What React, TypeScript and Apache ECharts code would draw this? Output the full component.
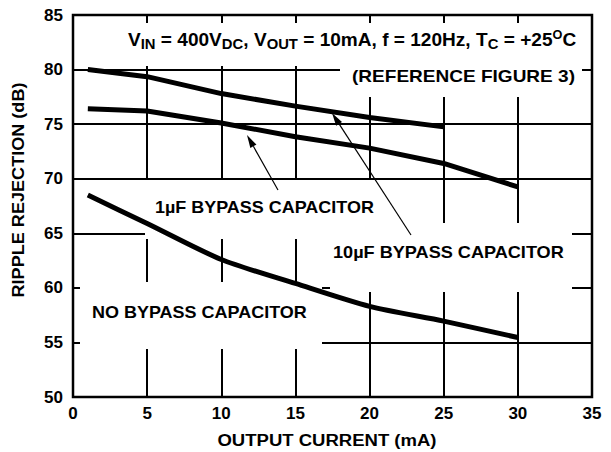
import React, { useEffect, useRef } from "react";
import * as echarts from "echarts";

// Output current (mA) sample points
const currentMA = [1, 5, 10, 15, 20, 25, 30];
// Ripple rejection (dB)
const rej10uF = [80.0, 79.35, 77.8, 76.65, 75.6, 74.75];
const rej1uF = [76.4, 76.2, 75.1, 73.85, 72.8, 71.4, 69.25];
const rejNone = [68.5, 65.9, 62.6, 60.4, 58.3, 56.95, 55.45];

const xTickLabels = ["0", "5", "10", "15", "20", "25", "30", "35"];
const yTickLabels = ["50", "55", "60", "65", "70", "75", "80", "85"];

const FONT = "'Liberation Sans', Arial, Helvetica, sans-serif";

function zip(xs: number[], ys: number[]) {
  return ys.map((y, i) => [xs[i], y]);
}

function arrow(tail: number[], tip: number[], len: number, half: number) {
  const dx = tip[0] - tail[0];
  const dy = tip[1] - tail[1];
  const l = Math.sqrt(dx * dx + dy * dy);
  const ux = dx / l;
  const uy = dy / l;
  const bx = tip[0] - ux * len;
  const by = tip[1] - uy * len;
  const nx = -uy;
  const ny = ux;
  return [
    {
      type: "line",
      z: 5,
      silent: true,
      shape: { x1: tail[0], y1: tail[1], x2: bx, y2: by },
      style: { stroke: "#000", lineWidth: 1.2 },
    },
    {
      type: "polygon",
      z: 5,
      silent: true,
      shape: {
        points: [
          [tip[0], tip[1]],
          [bx + nx * half, by + ny * half],
          [bx - nx * half, by - ny * half],
        ],
      },
      style: { fill: "#000" },
    },
  ];
}

function label(text: string, x: number, y: number, size: number, sx: number, align = "left", rotation = 0) {
  return {
    type: "text",
    x,
    y,
    z: 6,
    silent: true,
    scaleX: sx,
    rotation,
    style: {
      text,
      fill: "#000",
      fontSize: size,
      fontWeight: "bold",
      fontFamily: FONT,
      align,
      verticalAlign: "middle",
      textAlign: align,
      textVerticalAlign: "middle",
    },
  };
}

function whiteRect(x: number, y: number, w: number, h: number) {
  return {
    type: "rect",
    z: 1,
    silent: true,
    shape: { x, y, width: w, height: h },
    style: { fill: "#fff" },
  };
}

export default function App() {
  const ref = useRef<HTMLDivElement>(null);

  useEffect(() => {
    if (!ref.current) return;
    const chart = echarts.init(ref.current, undefined, { renderer: "svg" });

    const axisLabelStyle = {
      color: "#000",
      fontSize: 17,
      fontWeight: "bold" as const,
      fontFamily: FONT,
    };

    const titleRich = {
      m: { fontSize: 18, fontWeight: "bold", fontFamily: FONT, fill: "#000", color: "#000", lineHeight: 24 },
      s: { fontSize: 14, fontWeight: "bold", fontFamily: FONT, fill: "#000", color: "#000", lineHeight: 24, padding: [9, 0, 0, 0] },
      u: { fontSize: 12, fontWeight: "bold", fontFamily: FONT, fill: "#000", color: "#000", lineHeight: 24, padding: [0, 0, 9, 0] },
    };

    const option: any = {
      animation: false,
      backgroundColor: "#fff",
      grid: {
        left: 73,
        right: 19,
        top: 15,
        bottom: 55,
        show: true,
        borderColor: "#000",
        borderWidth: 2.5,
        backgroundColor: "transparent",
      },
      xAxis: {
        type: "value",
        min: 0,
        max: 35,
        interval: 5,
        axisLine: { show: false },
        axisTick: { show: false },
        axisLabel: {
          ...axisLabelStyle,
          margin: 8,
          formatter: (v: number) => xTickLabels[Math.round(v / 5)] ?? String(v),
        },
        splitLine: { show: true, lineStyle: { color: "#000", width: 2 } },
      },
      yAxis: {
        type: "value",
        min: 50,
        max: 85,
        interval: 5,
        axisLine: { show: false },
        axisTick: { show: false },
        axisLabel: {
          ...axisLabelStyle,
          margin: 10,
          formatter: (v: number) => yTickLabels[Math.round((v - 50) / 5)] ?? String(v),
        },
        splitLine: { show: true, lineStyle: { color: "#000", width: 2 } },
      },
      series: [
        {
          name: "10µF BYPASS CAPACITOR",
          type: "line",
          data: zip(currentMA, rej10uF),
          showSymbol: false,
          symbol: "none",
          lineStyle: { color: "#000", width: 5 },
          z: 2,
        },
        {
          name: "1µF BYPASS CAPACITOR",
          type: "line",
          data: zip(currentMA, rej1uF),
          showSymbol: false,
          symbol: "none",
          lineStyle: { color: "#000", width: 5 },
          z: 2,
        },
        {
          name: "NO BYPASS CAPACITOR",
          type: "line",
          data: zip(currentMA, rejNone),
          showSymbol: false,
          symbol: "none",
          smooth: 0.25,
          lineStyle: { color: "#000", width: 5 },
          z: 2,
        },
      ],
      graphic: [
        // white clearings behind the annotations (break the grid like the original)
        whiteRect(76, 23, 513, 43),
        whiteRect(340, 66, 242, 31),
        whiteRect(76, 180, 296, 51),
        whiteRect(145, 231, 427, 8),
        whiteRect(330, 223, 242, 69),
        whiteRect(80, 282, 242, 67),
        // texts
        {
          type: "text",
          x: 128,
          y: 40,
          z: 6,
          silent: true,
          scaleX: 1.06,
          style: {
            text: "{m|V}{s|IN}{m| = 400V}{s|DC}{m|, V}{s|OUT}{m| = 10mA, f = 120Hz, T}{s|C}{m| = +25}{u|O}{m|C}",
            rich: titleRich,
            fill: "#000",
            fontWeight: "bold",
            fontFamily: FONT,
            align: "left",
            verticalAlign: "middle",
            textAlign: "left",
            textVerticalAlign: "middle",
          },
        },
        label("(REFERENCE FIGURE 3)", 352, 76, 17, 1.12),
        label("1µF BYPASS CAPACITOR", 155, 208, 16, 1.123),
        label("10µF BYPASS CAPACITOR", 333, 253, 16, 1.133),
        label("NO BYPASS CAPACITOR", 92, 312.5, 16, 1.125),
        label("OUTPUT CURRENT (mA)", 327, 440, 17, 1.09, "center"),
        label("RIPPLE REJECTION (dB)", 18, 190, 17, 1.064, "center", Math.PI / 2),
        ...arrow([278, 190], [247, 135], 13, 3.5),
        ...arrow([411, 235], [332, 113], 13, 3.5),
      ],
    };

    chart.setOption(option);
    return () => chart.dispose();
  }, []);

  return (
    <div
      ref={ref}
      style={{ position: "fixed", left: 0, top: 0, width: 611, height: 452, background: "#fff" }}
    />
  );
}
